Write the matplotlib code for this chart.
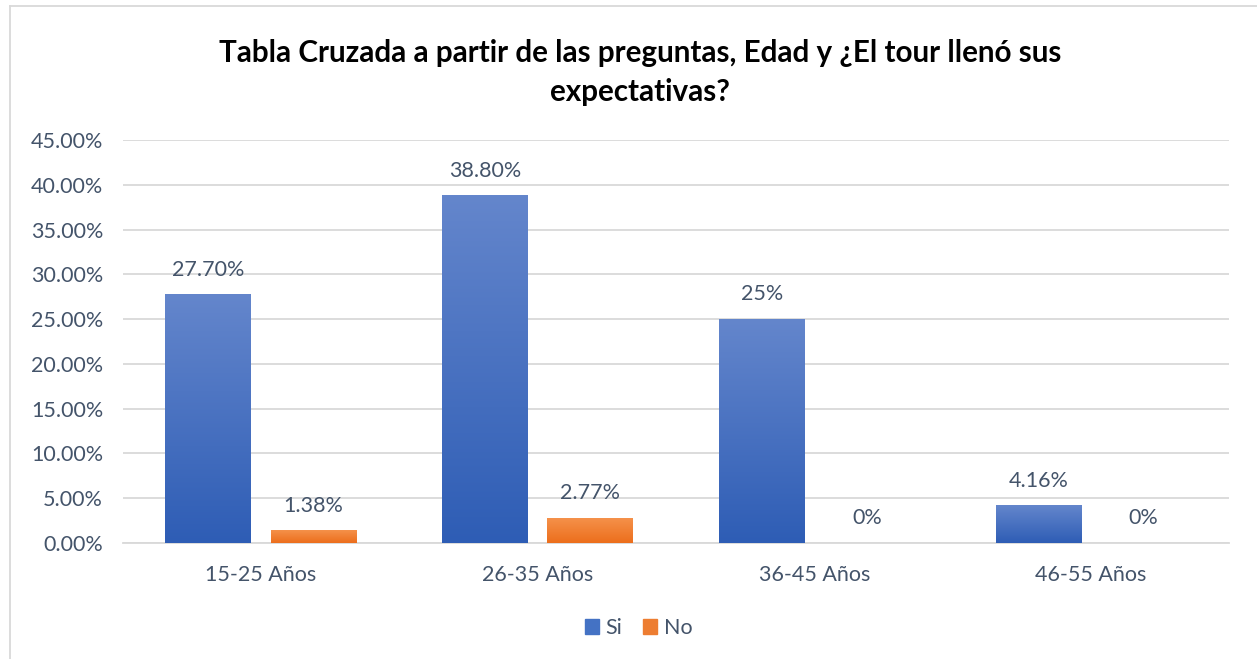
import numpy as np
import matplotlib
matplotlib.use("Agg")
import matplotlib.pyplot as plt
from matplotlib.colors import LinearSegmentedColormap
from matplotlib.lines import Line2D

plt.rcParams['font.family'] = ['Lato', 'DejaVu Sans']

categories = ["15-25 Años", "26-35 Años", "36-45 Años", "46-55 Años"]
si = [27.70, 38.80, 25.0, 4.16]
no = [1.38, 2.77, 0.0, 0.0]
si_labels = ["27.70%", "38.80%", "25%", "4.16%"]
no_labels = ["1.38%", "2.77%", "0%", "0%"]
yticks = [0, 5, 10, 15, 20, 25, 30, 35, 40, 45]

text_col = "#44546A"
blue_cm = LinearSegmentedColormap.from_list("b", ["#2E5DB5", "#6486CC"])
orange_cm = LinearSegmentedColormap.from_list("o", ["#EC6E1C", "#F5914A"])

fig = plt.figure(figsize=(12.57, 6.59), dpi=100)
ax = fig.add_axes([0.0975, 0.176, 0.8806, 0.6115])

x = np.arange(len(categories))
w = 0.31
off = 0.19
grad = np.linspace(0, 1, 256).reshape(-1, 1)

def gbars(xs, vals, cmap, face):
    bars = ax.bar(xs, vals, w, color=face, zorder=2)
    for b in bars:
        if b.get_height() <= 0:
            continue
        x0, y0 = b.get_x(), b.get_y()
        ax.imshow(grad, cmap=cmap, origin="lower", aspect="auto", zorder=3,
                  extent=[x0, x0 + b.get_width(), y0, y0 + b.get_height()])
    return bars

b1 = gbars(x - off, si, blue_cm, "#4472C4")
b2 = gbars(x + off, no, orange_cm, "#ED7D31")

for b, lab in zip(b1, si_labels):
    ax.annotate(lab, (b.get_x() + b.get_width() / 2, b.get_height()),
                xytext=(0, 18), textcoords="offset points", ha="center",
                va="center", fontsize=15.5, color=text_col)
for b, lab in zip(b2, no_labels):
    ax.annotate(lab, (b.get_x() + b.get_width() / 2, b.get_height()),
                xytext=(0, 18), textcoords="offset points", ha="center",
                va="center", fontsize=15.5, color=text_col)

ax.set_xlim(-0.5, len(categories) - 0.5)
ax.set_ylim(0, 45)
ax.set_yticks(yticks)
ax.set_yticklabels([f"{v:.2f}%" for v in yticks])
ax.set_xticks(x)
ax.set_xticklabels(categories)
ax.tick_params(length=0, labelsize=15.5, colors=text_col)
ax.tick_params(axis="x", pad=16)
ax.tick_params(axis="y", pad=14)
ax.grid(axis="y", color="#D9D9D9", lw=1.3, zorder=0)
for s in ["top", "right", "left"]:
    ax.spines[s].set_visible(False)
ax.spines["bottom"].set_color("#D9D9D9")
ax.spines["bottom"].set_linewidth(1.3)

fig.text(0.509, 0.89, "Tabla Cruzada a partir de las preguntas, Edad y ¿El tour llenó sus\nexpectativas?",
         ha="center", va="center", fontsize=21.3, fontweight="bold",
         color="black", linespacing=1.5)

h1 = plt.Rectangle((0, 0), 1, 1, color="#4472C4")
h2 = plt.Rectangle((0, 0), 1, 1, color="#ED7D31")
fig.legend([h1, h2], ["Si", "No"], loc="center", bbox_to_anchor=(0.508, 0.047),
           ncol=2, frameon=False, fontsize=15.5, handlelength=0.65, handleheight=0.65,
           handletextpad=0.3, columnspacing=1.0, labelcolor=text_col)

fig.add_artist(Line2D([10 / 1257, 10 / 1257], [0, 1 - 6 / 659], color="#D9D9D9", lw=1.3))
fig.add_artist(Line2D([10 / 1257, 1], [1 - 6 / 659, 1 - 6 / 659], color="#D9D9D9", lw=1.3))

fig.savefig("out.png", dpi=100)
